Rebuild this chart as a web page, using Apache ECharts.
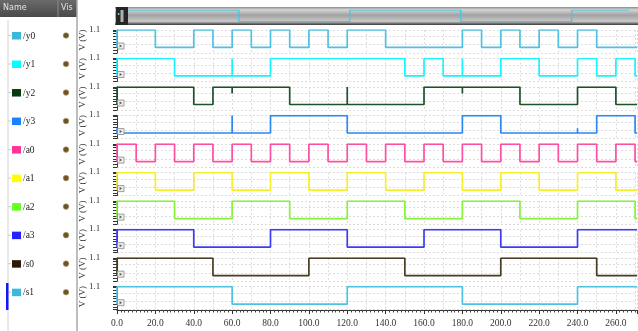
<!DOCTYPE html>
<html>
<head>
<meta charset="utf-8">
<script src="https://cdn.jsdelivr.net/npm/echarts@6/dist/echarts.min.js"></script>
<style>
  html, body { margin: 0; padding: 0; background: #fff; }
  #chart { width: 638px; height: 331px; }
</style>
</head>
<body>
<div id="chart"></div>
<script>
// time axis (ns), one level per 10 ns slot
const T_END = 271
const STEP = 10
const HIGH = 1.1

const signalNames = ['/y0', '/y1', '/y2', '/y3', '/a0', '/a1', '/a2', '/a3', '/s0', '/s1']

const y0 = [1,1,0,0,1,0,1,0,1,0,1,0,1,1,0,0,0,0,1,0,1,0,1,0,1,0,0,0]
const y1 = [1,1,1,0,0,0,0,0,1,1,1,1,1,1,1,0,1,0,0,0,1,1,0,0,1,0,1,0]
const y2 = [1,1,1,1,0,1,1,1,1,0,0,0,0,0,0,0,1,1,1,1,1,0,0,0,1,1,0,0]
const y3 = [0,0,0,0,0,0,0,0,1,1,1,1,0,0,0,0,0,0,1,1,0,0,0,0,0,1,1,0]
const a0 = [1,0,1,0,1,0,1,0,1,0,1,0,1,0,1,0,1,0,1,0,1,0,1,0,1,0,1,0]
const a1 = [1,1,0,0,1,1,0,0,1,1,0,0,1,1,0,0,1,1,0,0,1,1,0,0,1,1,0,0]
const a2 = [1,1,1,0,0,0,1,1,1,0,0,0,1,1,1,0,0,0,1,1,1,0,0,0,1,1,1,0]
const a3 = [1,1,1,1,0,0,0,0,1,1,1,1,0,0,0,0,1,1,1,1,0,0,0,0,1,1,1,1]
const s0 = [1,1,1,1,1,0,0,0,0,0,1,1,1,1,1,0,0,0,0,0,1,1,1,1,1,0,0,0]
const s1 = [1,1,1,1,1,1,0,0,0,0,0,0,1,1,1,1,1,1,0,0,0,0,0,0,1,1,1,1]

// glitches: [time, peak level]
const y1Glitches = [[60, 1.1], [180, 1.1]]
const y2Glitches = [[60, 0.7], [120, 1.1], [180, 0.7]]
const y3Glitches = [[0, 0.3], [60, 1.1], [240, 0.3]]

const levels = [y0, y1, y2, y3, a0, a1, a2, a3, s0, s1]
const glitches = [[], y1Glitches, y2Glitches, y3Glitches, [], [], [], [], [], []]

const traceColors = ['#4fc2e2', '#17f3ff', '#1e5229', '#2b88f4', '#ff4fa3', '#f4f02c', '#86f23c', '#3c3cf2', '#4a3b24', '#4fc2e2']
const swatchColors = ['#3cb9da', '#00ffff', '#083a12', '#1a82ff', '#ff3399', '#ffff00', '#66ff22', '#2424ff', '#2a1a06', '#3cb9da']

const ROW0 = 30
const ROW_PITCH = 28.52
const rowTop = i => ROW0 + ROW_PITCH * i

function wavePoints(lv, gl) {
  const pts = [[0, 0]]
  lv.forEach((l, i) => {
    const t0 = i * STEP
    const t1 = Math.min(t0 + STEP, T_END)
    const v = l * HIGH
    pts.push([t0, v])
    gl.filter(g => g[0] === t0).forEach(g => pts.push([t0, g[1]], [t0, v]))
    pts.push([t1, v])
  })
  return pts
}

const chart = echarts.init(document.getElementById('chart'), null, { renderer: 'canvas' })

const grids = []
const xAxes = []
const yAxes = []
const series = []
const graphics = []

const serif = 'Liberation Serif'

levels.forEach((lv, i) => {
  grids.push({ left: 117, right: 1, top: rowTop(i), height: 23 })
  xAxes.push({
    gridIndex: i, type: 'value', min: 0, max: T_END, interval: 10,
    axisLine: { show: false }, axisTick: { show: false }, axisLabel: { show: false },
    splitLine: { show: true, lineStyle: { color: '#dcdcdc', type: [2, 2], width: 1 } }
  })
  yAxes.push({
    gridIndex: i, type: 'value', min: -0.35, max: 1.1, interval: 0.525, offset: 7,
    axisLine: { show: true, lineStyle: { color: '#444', width: 1 } },
    axisTick: { show: true, length: 4, lineStyle: { color: '#333' } },
    minorTick: { show: true, splitNumber: 3, length: 4, lineStyle: { color: '#333' } },
    axisLabel: { show: false },
    splitLine: { show: true, lineStyle: { color: '#dcdcdc', type: [2, 2], width: 1 } }
  })
  series.push({
    type: 'line', xAxisIndex: i, yAxisIndex: i,
    data: wavePoints(lv, glitches[i]),
    showSymbol: false, silent: true, animation: false,
    lineStyle: { color: traceColors[i], width: 1.7 }
  })

  const top = rowTop(i)
  // name panel entry
  graphics.push(
    { type: 'line', shape: { x1: 8, y1: top + 5.5, x2: 11, y2: top + 5.5 }, style: { stroke: '#c8c8c8', lineWidth: 1 } },
    { type: 'rect', shape: { x: 12, y: top + 2, width: 9, height: 7.5 }, style: { fill: swatchColors[i] } },
    { type: 'text', x: 23, y: top + 6, style: { text: signalNames[i], font: '9.5px ' + serif, fill: '#222', verticalAlign: 'middle' } },
    { type: 'circle', shape: { cx: 66, cy: top + 5.5, r: 2.8 }, style: { fill: '#6a5428', stroke: '#b09a70', lineWidth: 0.6 } },
    // unit and top value
    { type: 'text', x: 82.5, y: top + 10, rotation: Math.PI / 2, style: { text: 'V (V)', font: '9px ' + serif, fill: '#333', align: 'center', verticalAlign: 'middle' } },
    { type: 'text', x: 89, y: top - 0.5, style: { text: '1.1', font: '9px ' + serif, fill: '#333', verticalAlign: 'middle' } },
    // small expand button
    { type: 'rect', z: 100, shape: { x: 117.5, y: top + 13, width: 6.5, height: 6 }, style: { fill: '#ececec', stroke: '#8a8a8a', lineWidth: 0.8 } },
    { type: 'polygon', z: 101, shape: { points: [[119.6, top + 14.5], [119.6, top + 17.5], [122, top + 16]] }, style: { fill: '#555' } }
  )
})

// bottom time axis
const AX = levels.length
grids.push({ left: 117, right: 1, top: 309, height: 1 })
xAxes.push({
  gridIndex: AX, type: 'value', min: 0, max: T_END, interval: 20,
  axisLine: { show: true, lineStyle: { color: '#333', width: 1 } },
  axisTick: { show: true, length: 4, lineStyle: { color: '#333' } },
  minorTick: { show: true, splitNumber: 10, length: 2.5, lineStyle: { color: '#444' } },
  axisLabel: { show: true, showMaxLabel: false, margin: 8, formatter: v => v.toFixed(1), fontFamily: serif, fontSize: 9.5, color: '#333' },
  splitLine: { show: false }
})
yAxes.push({ gridIndex: AX, type: 'value', show: false, min: 0, max: 1 })

// overview strip on top
const OV = AX + 1
grids.push({ left: 128, right: 9, top: 10, height: 11.7 })
xAxes.push({ gridIndex: OV, type: 'value', min: 0, max: T_END, show: false })
yAxes.push({ gridIndex: OV, type: 'value', min: 0, max: HIGH, show: false })
series.push({
  type: 'line', xAxisIndex: OV, yAxisIndex: OV, z: 10,
  data: wavePoints(s1, []).slice(1),
  showSymbol: false, silent: true, animation: false,
  lineStyle: { color: '#3cc6e6', width: 1.2 }
})

graphics.push(
  // overview background and handle
  { type: 'rect', z: -1, shape: { x: 115, y: 7, width: 523, height: 18 }, style: { fill: new echarts.graphic.LinearGradient(0, 0, 0, 1, [
    { offset: 0, color: '#8a8a8a' }, { offset: 0.15, color: '#d4d4d4' }, { offset: 0.45, color: '#a2a2a2' },
    { offset: 0.8, color: '#c8c8c8' }, { offset: 0.9, color: '#7a7a7a' }, { offset: 1, color: '#3a3a3a' }]) } },
  { type: 'rect', shape: { x: 116, y: 7, width: 12, height: 18 }, style: { fill: '#262626' } },
  { type: 'rect', shape: { x: 120.5, y: 10, width: 3, height: 12 }, style: { fill: '#b0b0b0' } },
  { type: 'circle', shape: { cx: 118.6, cy: 14, r: 1 }, style: { fill: '#5fd3ea' } },
  // name panel
  { type: 'rect', shape: { x: 0, y: 0, width: 77, height: 17 }, style: { fill: new echarts.graphic.LinearGradient(0, 0, 0, 1, [
    { offset: 0, color: '#6a6a6a' }, { offset: 1, color: '#4a4a4a' }]) } },
  { type: 'line', shape: { x1: 58, y1: 0, x2: 58, y2: 17 }, style: { stroke: '#8a8a8a', lineWidth: 1 } },
  { type: 'text', x: 3, y: 8, style: { text: 'Name', font: '8px DejaVu Sans', fill: '#e4e4e4', verticalAlign: 'middle' } },
  { type: 'text', x: 61, y: 8, style: { text: 'Vis', font: '8px DejaVu Sans', fill: '#e4e4e4', verticalAlign: 'middle' } },
  { type: 'line', shape: { x1: 77, y1: 0, x2: 77, y2: 331 }, style: { stroke: '#a8a8a8', lineWidth: 1.5 } },
  { type: 'line', shape: { x1: 8, y1: 20, x2: 8, y2: 331 }, style: { stroke: '#d4d4d4', lineWidth: 1 } },
  { type: 'rect', shape: { x: 6, y: 283, width: 2.5, height: 27 }, style: { fill: '#1414ff' } }
)

const option = {
  backgroundColor: '#fff',
  animation: false,
  grid: grids,
  xAxis: xAxes,
  yAxis: yAxes,
  series: series,
  graphic: graphics
}

chart.setOption(option)

window.addEventListener('resize', () => chart.resize())
</script>
</body>
</html>
